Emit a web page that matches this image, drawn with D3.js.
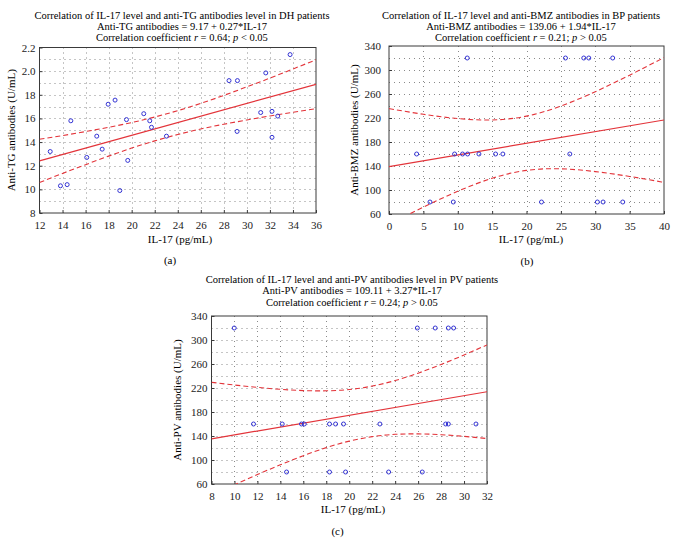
<!DOCTYPE html>
<html>
<head>
<meta charset="utf-8">
<script src="https://cdn.jsdelivr.net/npm/d3@7/dist/d3.min.js"></script>
<style>
  html, body { margin: 0; padding: 0; background: #fff; }
  svg { display: block; font-family: "Liberation Serif", "DejaVu Serif", serif; }
</style>
</head>
<body>
<svg id="chart" width="678" height="553"></svg>
<script>
// ---------- Panel (a): DH patients ----------
const aIL17 = [12.93, 13.82, 14.40, 14.72, 16.10, 16.97, 17.44, 17.96, 18.56, 18.97, 19.55, 19.66, 21.05, 21.57, 21.72, 23.02, 28.45, 29.18, 29.15, 31.20, 31.64, 32.18, 32.18, 32.68, 33.75];
const aAnti = [13.2, 10.3, 10.4, 15.8, 12.7, 14.5, 13.4, 17.2, 17.55, 9.9, 15.9, 12.45, 16.4, 15.8, 15.25, 14.5, 19.2, 19.2, 14.9, 16.5, 19.85, 16.6, 14.4, 16.2, 21.4];
const aXTicks = [12, 14, 16, 18, 20, 22, 24, 26, 28, 30, 32, 34, 36];
const aYTicks = [8, 10, 12, 14, 16, 18, 20, 22];
const aYTickLabels = ["8", "10", "12", "14", "16", "18", "2.0", "2.2"];
const aBandX = [12, 14, 16, 18, 20, 22, 24, 26, 28, 30, 32, 34, 36];
const aBandUpper = [14.24, 14.55, 14.89, 15.25, 15.65, 16.12, 16.66, 17.27, 17.95, 18.67, 19.41, 20.18, 20.96];
const aBandLower = [10.58, 11.35, 12.09, 12.81, 13.49, 14.10, 14.64, 15.11, 15.51, 15.87, 16.21, 16.52, 16.82];
const aCoef = [9.17, 0.27];

// ---------- Panel (b): BP patients ----------
const bIL17 = [4.02, 5.96, 9.35, 9.54, 10.7, 11.38, 11.43, 13.08, 15.5, 16.56, 22.18, 25.67, 26.3, 28.33, 29.06, 30.31, 31.14, 32.54, 34.0];
const bAnti = [160, 80, 80, 160, 160, 320, 160, 160, 160, 160, 80, 320, 160, 320, 320, 80, 80, 320, 80];
const bXTicks = [0, 5, 10, 15, 20, 25, 30, 35, 40];
const bYTicks = [60, 100, 140, 180, 220, 260, 300, 340];
const bYTickLabels = ["60", "100", "140", "180", "220", "260", "300", "340"];
const bBandX = [0, 5, 10, 15, 20, 25, 30, 35, 40];
const bBandUpper = [235.6, 226.2, 219.1, 216.7, 223.1, 239.9, 263.8, 291.4, 320.7];
const bBandLower = [42.5, 71.4, 97.9, 119.6, 132.7, 135.3, 130.7, 122.6, 112.7];
const bCoef = [139.06, 1.94];

// ---------- Panel (c): PV patients ----------
const cIL17 = [9.98, 11.66, 14.16, 14.54, 15.84, 16.08, 18.28, 18.28, 18.81, 19.5, 19.68, 22.67, 23.43, 25.93, 26.36, 27.49, 28.4, 28.63, 28.63, 29.09, 31.04];
const cAnti = [320, 160, 160, 80, 160, 160, 160, 80, 160, 160, 80, 160, 80, 320, 80, 320, 160, 160, 320, 320, 160];
const cXTicks = [8, 10, 12, 14, 16, 18, 20, 22, 24, 26, 28, 30, 32];
const cYTicks = [60, 100, 140, 180, 220, 260, 300, 340];
const cYTickLabels = ["60", "100", "140", "180", "220", "260", "300", "340"];
const cBandX = [8, 10, 12, 14, 16, 18, 20, 22, 24, 26, 28, 30, 32];
const cBandUpper = [229.5, 225.0, 221.0, 217.8, 215.7, 215.3, 217.5, 223.2, 232.4, 244.7, 259.2, 275.0, 291.8];
const cBandLower = [41.1, 58.6, 75.7, 92.0, 107.2, 120.6, 131.5, 138.9, 142.8, 143.5, 142.2, 139.4, 135.8];
const cCoef = [109.11, 3.27];

const svg = d3.select("#chart");
const RED = "#e3343a";
const BLUE = "#3434d4";
const TITLE_SIZE = 10.5;
const LINE_GAP = 11.3;

function drawPanel(p) {
  const g = svg.append("g");
  const x = d3.scaleLinear().domain(p.xDomain).range([p.left, p.right]);
  const y = d3.scaleLinear().domain(p.yDomain).range([p.bottom, p.top]);
  const clipId = "clip-" + p.id;
  svg.append("defs").append("clipPath").attr("id", clipId)
    .append("rect").attr("x", p.left).attr("y", p.top)
    .attr("width", p.right - p.left).attr("height", p.bottom - p.top);

  // titles
  const cx = p.titleX;
  g.append("text").attr("x", cx).attr("y", p.titleY).attr("text-anchor", "middle")
    .attr("font-size", TITLE_SIZE).text(p.title1);
  g.append("text").attr("x", cx).attr("y", p.titleY + LINE_GAP).attr("text-anchor", "middle")
    .attr("font-size", TITLE_SIZE).text(p.title2);
  const t3 = g.append("text").attr("x", cx).attr("y", p.titleY + 2 * LINE_GAP).attr("text-anchor", "middle")
    .attr("font-size", TITLE_SIZE);
  t3.append("tspan").text("Correlation coefficient ");
  t3.append("tspan").attr("font-style", "italic").text("r");
  t3.append("tspan").text(" = " + p.r + "; ");
  t3.append("tspan").attr("font-style", "italic").text("p");
  t3.append("tspan").text(" " + p.pval);

  // grid: vertical at major x ticks, horizontal at half steps of y ticks
  const yStep = p.yTicks[1] - p.yTicks[0];
  const hGrid = [];
  for (let i = 0; i < p.yTicks.length - 1; i++) {
    hGrid.push(p.yTicks[i] + yStep / 2);
    if (i > 0) hGrid.push(p.yTicks[i]);
  }
  const grid = g.append("g").attr("stroke", "#8a8a8a").attr("stroke-width", 1)
    .attr("stroke-dasharray", "1,4");
  grid.selectAll("line.v").data(p.xTicks.slice(1, -1)).join("line")
    .attr("x1", d => Math.round(x(d)) + 0.5).attr("x2", d => Math.round(x(d)) + 0.5)
    .attr("y1", p.top).attr("y2", p.bottom);
  grid.selectAll("line.h").data(hGrid).join("line")
    .attr("y1", d => Math.round(y(d)) + 0.5).attr("y2", d => Math.round(y(d)) + 0.5)
    .attr("x1", p.left).attr("x2", p.right);

  // frame
  g.append("rect").attr("x", p.left).attr("y", p.top)
    .attr("width", p.right - p.left).attr("height", p.bottom - p.top)
    .attr("fill", "none").attr("stroke", "#3a3a3a").attr("stroke-width", 1);

  // axes (inside ticks)
  const xAxis = d3.axisBottom(x).tickValues(p.xTicks).tickSizeInner(-3).tickSizeOuter(0).tickPadding(8);
  const gx = g.append("g").attr("transform", `translate(0,${p.bottom})`).call(xAxis);
  gx.select(".domain").remove();
  gx.selectAll("line").attr("stroke", "#3a3a3a");
  gx.selectAll("text").attr("font-size", 11).attr("font-family", "Liberation Serif").attr("fill", "#222");

  const yAxis = d3.axisLeft(y).tickValues(p.yTicks).tickSizeInner(-3).tickSizeOuter(0)
    .tickPadding(p.yPad).tickFormat((d, i) => p.yTickLabels[i]);
  const gy = g.append("g").attr("transform", `translate(${p.left},0)`).call(yAxis);
  gy.select(".domain").remove();
  gy.selectAll("line").attr("stroke", "#3a3a3a");
  gy.selectAll("text").attr("font-size", 11).attr("font-family", "Liberation Serif").attr("fill", "#222");

  // axis titles
  g.append("text").attr("x", p.xTitleX).attr("y", p.xTitleY).attr("text-anchor", "middle")
    .attr("font-size", 11).text("IL-17 (pg/mL)");
  g.append("text").attr("transform", `translate(${p.yTitleX},${(p.top + p.bottom) / 2}) rotate(-90)`)
    .attr("text-anchor", "middle").attr("font-size", 11).text(p.yTitle);
  g.append("text").attr("x", p.tagX).attr("y", p.tagY).attr("text-anchor", "middle")
    .attr("font-size", 11).text(p.tag);

  const plot = g.append("g").attr("clip-path", `url(#${clipId})`);

  // confidence bands
  const band = d3.line().x(d => x(d[0])).y(d => y(d[1])).curve(d3.curveNatural);
  [p.bandUpper, p.bandLower].forEach(arr => {
    plot.append("path").datum(p.bandX.map((v, i) => [v, arr[i]]))
      .attr("d", band).attr("fill", "none").attr("stroke", RED)
      .attr("stroke-width", 1.1).attr("stroke-dasharray", "5,3");
  });

  // regression line
  const xs = p.xDomain;
  plot.append("line")
    .attr("x1", x(xs[0])).attr("y1", y(p.coef[0] + p.coef[1] * xs[0]))
    .attr("x2", x(xs[1])).attr("y2", y(p.coef[0] + p.coef[1] * xs[1]))
    .attr("stroke", RED).attr("stroke-width", 1.2);

  // points
  plot.selectAll("circle").data(p.xs.map((v, i) => [v, p.ys[i]])).join("circle")
    .attr("cx", d => x(d[0])).attr("cy", d => y(d[1])).attr("r", 2)
    .attr("fill", "none").attr("stroke", BLUE).attr("stroke-width", 1);
}

drawPanel({
  id: "a", left: 39.5, right: 316, top: 47.5, bottom: 213,
  xDomain: [12, 36], yDomain: [8, 22], xTicks: aXTicks, yTicks: aYTicks, yTickLabels: aYTickLabels,
  xs: aIL17, ys: aAnti, bandX: aBandX, bandUpper: aBandUpper, bandLower: aBandLower, coef: aCoef,
  titleX: 182, titleY: 18.5,
  title1: "Correlation of IL-17 level and anti-TG antibodies level in DH patients",
  title2: "Anti-TG antibodies = 9.17 + 0.27*IL-17", r: "0.64", pval: "< 0.05",
  yPad: 4, yTitle: "Anti-TG antibodies (U/mL)", yTitleX: 15,
  xTitleX: 180, xTitleY: 243, tag: "(a)", tagX: 170, tagY: 264
});

drawPanel({
  id: "b", left: 389, right: 664, top: 46, bottom: 214,
  xDomain: [0, 40], yDomain: [60, 340], xTicks: bXTicks, yTicks: bYTicks, yTickLabels: bYTickLabels,
  xs: bIL17, ys: bAnti, bandX: bBandX, bandUpper: bBandUpper, bandLower: bBandLower, coef: bCoef,
  titleX: 521, titleY: 18.5,
  title1: "Correlation of IL-17 level and anti-BMZ antibodies in BP patients",
  title2: "Anti-BMZ antibodies = 139.06 + 1.94*IL-17", r: "0.21", pval: "> 0.05",
  yPad: 8, yTitle: "Anti-BMZ antibodies (U/mL)", yTitleX: 358,
  xTitleX: 531, xTitleY: 243, tag: "(b)", tagX: 527, tagY: 265
});

drawPanel({
  id: "c", left: 211.5, right: 487, top: 316, bottom: 484,
  xDomain: [8, 32], yDomain: [60, 340], xTicks: cXTicks, yTicks: cYTicks, yTickLabels: cYTickLabels,
  xs: cIL17, ys: cAnti, bandX: cBandX, bandUpper: cBandUpper, bandLower: cBandLower, coef: cCoef,
  titleX: 352, titleY: 283,
  title1: "Correlation of IL-17 level and anti-PV antibodies level in PV patients",
  title2: "Anti-PV antibodies = 109.11 + 3.27*IL-17", r: "0.24", pval: "> 0.05",
  yPad: 4, yTitle: "Anti-PV antibodies (U/mL)", yTitleX: 181,
  xTitleX: 353, xTitleY: 513, tag: "(c)", tagX: 337.5, tagY: 535
});
</script>
</body>
</html>
